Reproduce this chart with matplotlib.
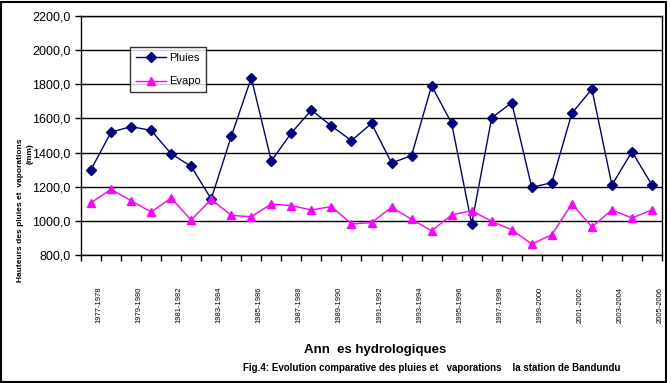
import matplotlib
matplotlib.use("Agg")
import matplotlib.pyplot as plt
import matplotlib.patches as patches
import numpy as np

plt.rcParams['font.family'] = ['Liberation Sans', 'DejaVu Sans']

# hydrological years 1977-1978 .. 2005-2006
annees = [f"{y}-{y + 1}" for y in range(1977, 2006)]

pluies = [1300, 1520, 1552, 1530, 1393, 1319, 1128, 1495, 1838, 1351,
          1515, 1649, 1556, 1470, 1571, 1339, 1382, 1792, 1571, 982,
          1604, 1692, 1196, 1224, 1630, 1772, 1210, 1405, 1210]

evapo = [1106, 1185, 1118, 1052, 1134, 1005, 1126, 1032, 1024, 1099,
         1089, 1064, 1084, 982, 989, 1080, 1009, 942, 1034, 1060,
         997, 948, 864, 919, 1099, 964, 1064, 1017, 1064]

x = np.arange(len(annees))

fig = plt.figure(figsize=(6.71, 3.83), dpi=100)
ax = fig.add_axes([81 / 671, 1 - 255 / 383, 581 / 671, 239 / 383])

ax.plot(x, pluies, color='#000080', marker='D', markersize=5, linewidth=1,
        label='Pluies')
ax.plot(x, evapo, color='#FF00FF', marker='^', markersize=6, linewidth=1,
        label='Evapo')

ax.set_xlim(-0.5, len(annees) - 0.5)
ax.set_ylim(800, 2200)
yt = np.arange(800, 2201, 200)
ax.set_yticks(yt)
ax.set_yticklabels([f"{v:.1f}".replace('.', ',') for v in yt], fontsize=9)
ax.grid(axis='y', color='black', linewidth=1)
ax.set_axisbelow(True)

# tick marks at category boundaries, labels every other category
ax.set_xticks(np.arange(-0.5, len(annees), 1.0), minor=True)
ax.tick_params(axis='x', which='minor', length=4, width=1)
ax.set_xticks(x[::2] + 0.4)
ax.set_xticklabels(annees[::2], rotation=90, fontsize=5.5, va='top')
ax.tick_params(axis='x', which='major', length=0, pad=23)
ax.tick_params(axis='y', length=4, width=1)

for s in ax.spines.values():
    s.set_linewidth(1)
    s.set_color('black')

leg = ax.legend(loc='upper left', bbox_to_anchor=(49 / 581, 1 - 31 / 239),
                fontsize=8, frameon=True, fancybox=False, edgecolor='black',
                handlelength=2.7, handletextpad=0.3, borderpad=0.5,
                borderaxespad=0, labelspacing=1.25)
leg.get_frame().set_linewidth(1)

fig.text(21 / 671, 1 - 210 / 383, "Hauteurs des pluies et  vaporations",
         rotation=90, ha='center', va='center', fontsize=6,
         fontweight='bold')
fig.text(30 / 671, 1 - 154 / 383, "(mm)", rotation=90, ha='center',
         va='center', fontsize=6, fontweight='bold')

fig.text(375 / 671, 1 - 350 / 383, "Ann  es hydrologiques", ha='center',
         va='center', fontsize=9.5, fontweight='bold')
fig.text(432 / 671, 1 - 368 / 383,
         "Fig.4: Evolution comparative des pluies et   vaporations    la station de Bandundu",
         ha='center', va='center', fontsize=7.0, fontweight='bold')

fig.patches.append(patches.Rectangle((1 / 671, 1 / 383), 665 / 671, 380 / 383,
                                     transform=fig.transFigure, fill=False,
                                     edgecolor='black', linewidth=1.5))

fig.savefig("out.png", dpi=100)
